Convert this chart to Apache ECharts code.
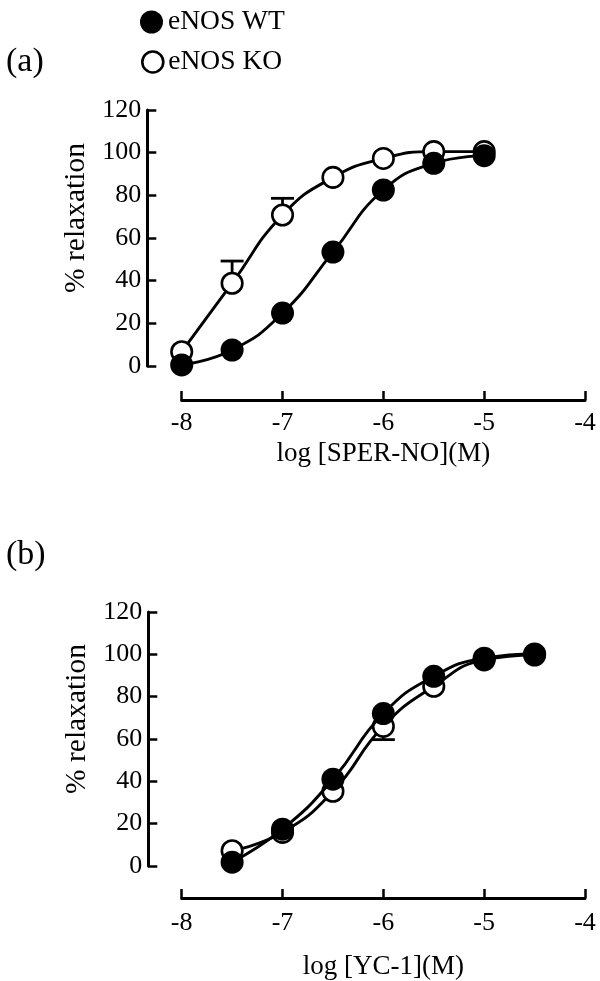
<!DOCTYPE html>
<html>
<head>
<meta charset="utf-8">
<script src="https://cdn.jsdelivr.net/npm/echarts@6/dist/echarts.min.js"></script>
<style>
html,body{margin:0;padding:0;background:#fff;}
#chart{width:600px;height:981px;}
</style>
</head>
<body>
<div id="chart"></div>
<script>
// ---- data ----
var xTicks = [-8, -7, -6, -5, -4];
var yTicks = [0, 20, 40, 60, 80, 100, 120];

// panel (a): SPER-NO
var concA = [-8, -7.5, -7, -6.5, -6, -5.5, -5];
var wtA   = [0.5, 7.5, 24.8, 53.4, 82.5, 95.0, 98.6];
var koA   = [6.7, 38.8, 70.8, 88.4, 97.3, 100.5, 100.5];
// KO error bars drawn: [conc, mean, end of bar]
var koErrA = [[-7.5, 38.8, 49.2], [-7, 70.8, 78.6]];

// panel (b): YC-1
var concB = [-7.5, -7, -6.5, -6, -5.5, -5, -4.5];
var wtB   = [1.8, 17.4, 41.0, 72.0, 89.6, 98.2, 100.2];
var koB   = [7.2, 15.9, 35.3, 66.0, 84.9, 97.4, 99.7];
var koErrB = [[-6, 66.0, 59.7]];

var seriesNames = ['eNOS WT', 'eNOS KO'];
var xTitles = ['log [SPER-NO](M)', 'log [YC-1](M)'];
var yTitle = '% relaxation';
var panelLabels = ['(a)', '(b)'];

// ---- build ----
var FONT = "'Liberation Serif', 'Times New Roman', serif";
function pairs(xs, ys){ return xs.map(function(x,i){ return [x, ys[i]]; }); }

function xAxisFor(idx, offset, nameGap, labelMargin){
  return {
    type:'value', gridIndex: idx, min: xTicks[0], max: xTicks[xTicks.length-1], interval: 1,
    offset: offset,
    axisLine:{show:true, onZero:false, lineStyle:{color:'#000', width:3}},
    axisTick:{show:true, inside:true, length:9, lineStyle:{color:'#000', width:2.5}},
    axisLabel:{color:'#000', fontFamily:FONT, fontSize:26, margin:labelMargin},
    splitLine:{show:false},
    name: xTitles[idx], nameLocation:'middle', nameGap: nameGap,
    nameTextStyle:{color:'#000', fontFamily:FONT, fontSize:27}
  };
}
function yAxisFor(idx, offset){
  return {
    type:'value', gridIndex: idx, min: yTicks[0], max: yTicks[yTicks.length-1], interval: 20,
    offset: offset,
    axisLine:{show:true, onZero:false, lineStyle:{color:'#000', width:3}},
    axisTick:{show:true, inside:true, length:9, lineStyle:{color:'#000', width:2.5}},
    axisLabel:{color:'#000', fontFamily:FONT, fontSize:26, margin:6},
    splitLine:{show:false},
    name: yTitle, nameLocation:'middle', nameGap: 44, nameRotate: 90,
    nameTextStyle:{color:'#000', fontFamily:FONT, fontSize:29.5, padding:[0,0,0,40]}
  };
}

function lineSeries(name, idx, data, filled){
  return {
    type:'line', name:name, xAxisIndex: idx, yAxisIndex: idx,
    data: data, smooth: 0.5, clip:false, z: filled ? 4 : 3,
    symbol:'circle', symbolSize: filled ? 23 : 20.5,
    lineStyle:{color:'#000', width:2.9},
    itemStyle: filled ? {color:'#000', borderColor:'#000', borderWidth:0}
                      : {color:'#fff', borderColor:'#000', borderWidth:2.6},
    emphasis:{disabled:true}, animation:false
  };
}
function errSeries(idx, data){
  return {
    type:'custom', xAxisIndex: idx, yAxisIndex: idx, data: data, clip:false, z: 2,
    renderItem: function(params, api){
      var x = api.value(0), m = api.value(1), e = api.value(2);
      var p0 = api.coord([x, m]), p1 = api.coord([x, e]);
      var hw = 11.5;
      return {type:'group', children:[
        {type:'line', shape:{x1:p0[0], y1:p0[1], x2:p1[0], y2:p1[1]}, style:{stroke:'#000', lineWidth:2.8}},
        {type:'line', shape:{x1:p1[0]-hw, y1:p1[1], x2:p1[0]+hw, y2:p1[1]}, style:{stroke:'#000', lineWidth:2.8}}
      ]};
    },
    animation:false, silent:true
  };
}

var chart = echarts.init(document.getElementById('chart'), null, {renderer:'canvas'});
var option = {
  backgroundColor:'#fff',
  animation:false,
  legend:[
    {data:[{name:seriesNames[0], icon:'circle', itemStyle:{color:'#000', borderWidth:0}}],
     left:140, top:8, padding:0, itemWidth:23, itemHeight:23, selectedMode:false,
     textStyle:{color:'#000', fontFamily:FONT, fontSize:27.5, lineHeight:27}},
    {data:[{name:seriesNames[1], icon:'circle', itemStyle:{color:'#fff', borderColor:'#000', borderWidth:2.6}}],
     left:141, top:48, padding:0, itemWidth:21, itemHeight:21, selectedMode:false,
     textStyle:{color:'#000', fontFamily:FONT, fontSize:27.5, lineHeight:27}}
  ],
  title:[
    {text: panelLabels[0], left:6, top:45, padding:0, textStyle:{color:'#000', fontFamily:FONT, fontSize:34, fontWeight:'normal'}},
    {text: panelLabels[1], left:6, top:538, padding:0, textStyle:{color:'#000', fontFamily:FONT, fontSize:34, fontWeight:'normal'}}
  ],
  grid:[
    {left:181.7, right:15, top:110, bottom:615},
    {left:181.7, right:15, top:612, bottom:114.3}
  ],
  xAxis:[ xAxisFor(0, 34, 40, 10), xAxisFor(1, 32, 55, 12) ],
  yAxis:[ yAxisFor(0, 34.4), yAxisFor(1, 33.4) ],
  series:[
    errSeries(0, koErrA),
    lineSeries(seriesNames[1], 0, pairs(concA, koA), false),
    lineSeries(seriesNames[0], 0, pairs(concA, wtA), true),
    errSeries(1, koErrB),
    lineSeries(seriesNames[1], 1, pairs(concB, koB), false),
    lineSeries(seriesNames[0], 1, pairs(concB, wtB), true)
  ]
};
chart.setOption(option);
</script>
</body>
</html>
